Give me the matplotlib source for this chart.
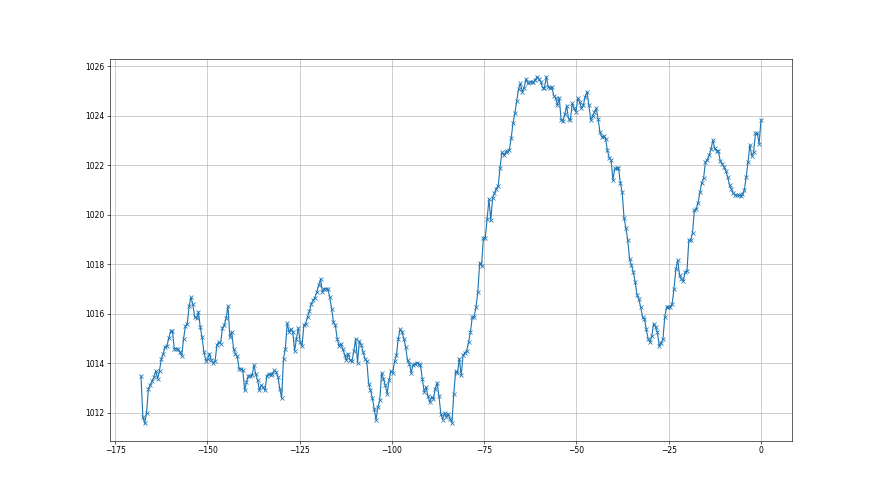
import numpy as np
from matplotlib import pyplot as plt

# pressure readings, one every half hour over the last week
pressure = [
    1013.48, 1011.82, 1011.57, 1011.98, 1012.96, 1013.13, 1013.27, 1013.44, 1013.68, 1013.37,
    1013.70, 1014.18, 1014.38, 1014.66, 1014.69, 1015.01, 1015.28, 1015.28, 1014.58, 1014.58,
    1014.56, 1014.45, 1014.29, 1014.99, 1015.49, 1015.60, 1016.30, 1016.66, 1016.38, 1015.87,
    1015.81, 1016.07, 1015.47, 1015.04, 1014.45, 1014.10, 1014.18, 1014.38, 1014.11, 1014.02,
    1014.07, 1014.72, 1014.85, 1014.79,
    1015.42, 1015.53, 1015.82, 1016.31, 1015.06, 1015.26, 1014.58, 1014.38, 1014.27, 1013.77,
    1013.77, 1013.71, 1012.90, 1013.23, 1013.48, 1013.48, 1013.50, 1013.91, 1013.57, 1013.30,
    1012.90, 1013.10, 1013.03, 1012.90, 1013.48, 1013.57, 1013.50, 1013.57, 1013.71, 1013.64,
    1013.44, 1012.96, 1012.59, 1014.18, 1014.58, 1015.62, 1015.26, 1015.39, 1015.26, 1014.49,
    1014.99, 1015.42, 1014.85, 1014.69, 1015.53, 1015.60, 1015.87, 1016.09, 1016.40, 1016.54,
    1016.65, 1016.88, 1017.15, 1017.39, 1016.88, 1017.01, 1017.01, 1016.99, 1016.67, 1016.20,
    1015.66, 1015.53, 1014.99,
    1014.69, 1014.79, 1014.58, 1014.34, 1014.11, 1014.38, 1014.11, 1014.07, 1014.48, 1014.99,
    1014.02, 1014.88, 1014.74, 1014.45, 1014.18, 1014.07, 1013.17, 1012.90, 1012.59, 1012.15,
    1011.71, 1012.22, 1012.49, 1013.60, 1013.37, 1013.10, 1012.76, 1013.30, 1013.68, 1013.60,
    1014.07, 1014.31, 1014.99, 1015.37, 1015.26, 1014.99, 1014.65, 1014.11, 1013.98, 1013.61,
    1013.94, 1013.98, 1014.02, 1013.98, 1013.91, 1013.37, 1012.83, 1013.03, 1012.69, 1012.42,
    1012.63, 1012.56, 1012.96, 1013.21, 1012.67, 1011.95, 1011.72, 1011.99, 1011.82, 1011.95,
    1011.75, 1011.59, 1012.76, 1013.67, 1013.61, 1014.18, 1013.50, 1014.31, 1014.42, 1014.50,
    1014.85, 1015.26, 1015.87, 1015.87, 1016.27, 1016.88, 1018.06, 1017.93, 1019.06, 1019.06,
    1019.82, 1020.63, 1019.78, 1020.68, 1020.86, 1021.06, 1021.17, 1021.90, 1022.52, 1022.41,
    1022.52, 1022.57, 1022.61, 1023.09, 1023.69, 1024.10, 1024.60, 1025.08, 1025.31, 1024.97,
    1025.14, 1025.49, 1025.31, 1025.35, 1025.38, 1025.35, 1025.45, 1025.58, 1025.49, 1025.38,
    1025.14, 1025.14, 1025.58, 1025.18, 1025.11, 1025.18, 1024.81, 1024.73, 1024.43, 1024.73,
    1023.83, 1023.79, 1024.06, 1024.41, 1023.89, 1023.83, 1024.50, 1024.30, 1024.16, 1024.70,
    1024.57, 1024.30, 1024.43, 1024.77, 1024.97, 1024.43, 1023.83, 1024.00, 1024.14, 1024.30,
    1023.87, 1023.33, 1023.15, 1023.19, 1023.08, 1022.61, 1022.30, 1022.21, 1021.40, 1021.87,
    1021.87, 1021.90, 1021.30, 1020.90, 1019.87, 1019.47, 1018.97, 1018.20, 1017.96, 1017.69,
    1017.28, 1016.77, 1016.58, 1016.27, 1015.87, 1015.80, 1015.37, 1014.99, 1014.85, 1015.10,
    1015.60, 1015.46, 1015.26, 1014.69, 1014.83, 1014.96, 1015.87, 1016.27, 1016.27,
    1016.27, 1016.40, 1017.01, 1017.79, 1018.16, 1017.55, 1017.39, 1017.31, 1017.69, 1017.71,
    1018.97, 1018.97, 1019.28, 1020.18, 1020.22, 1020.49, 1020.90, 1021.30, 1021.49, 1022.14,
    1022.21, 1022.41, 1022.65, 1023.02, 1022.68, 1022.57, 1022.57, 1022.17, 1022.07, 1021.94,
    1021.76, 1021.53, 1021.20, 1021.03, 1020.86, 1020.79, 1020.79, 1020.79, 1020.76, 1020.82,
    1020.99, 1021.53, 1022.14, 1022.82, 1022.38, 1022.52, 1023.29, 1023.29, 1022.88, 1023.83,
]

# hours relative to now
hours = np.linspace(-168, 0, len(pressure))

fig = plt.figure(figsize=(16, 9), dpi=55)
plt.plot(hours, pressure, marker='x')
plt.grid()
plt.savefig('out.png', dpi=55)
